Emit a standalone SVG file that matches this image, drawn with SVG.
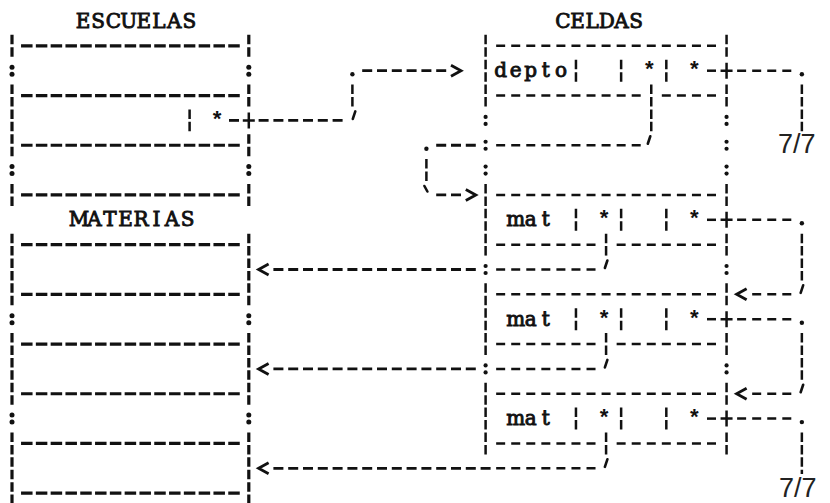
<svg xmlns="http://www.w3.org/2000/svg" xmlns:xlink="http://www.w3.org/1999/xlink" width="830" height="503" viewBox="0 0 830 503">
<style>
.t{font-family:"DejaVu Serif","Liberation Serif",serif;font-size:20px;fill:#111;stroke:#111;stroke-width:0.9}
.s{font-family:"Liberation Mono","Courier New",monospace;font-size:22px;font-weight:bold;fill:#111}
.n{font-family:"Liberation Sans",Arial,sans-serif;font-size:27px;fill:#222}
.hb{stroke:#111;stroke-width:3.2;stroke-dasharray:11.5 3.3;fill:none}
.hc{stroke:#111;stroke-width:2.8;stroke-dasharray:10 4.8;fill:none}
.hr{stroke:#111;stroke-width:2.5;stroke-dasharray:9 6.06;fill:none}
.vb{stroke:#111;stroke-width:3.2;stroke-dasharray:9.5 2.925;fill:none}
.vr{stroke:#111;stroke-width:2.5;stroke-dasharray:9.5 2.925;fill:none}
.bt{stroke:#111;stroke-width:2.6;stroke-linecap:round;fill:none}
</style>
<defs>
<g id="colonL" fill="#111"><circle cx="0" cy="-3.5" r="2.5"/><circle cx="0" cy="3.5" r="2.5"/></g>
<g id="colonR" fill="#111"><circle cx="0" cy="-3.5" r="2.1"/><circle cx="0" cy="3.5" r="2.1"/></g>
<circle id="dot" cx="0" cy="3.5" r="2.2" fill="#111"/>
<path id="plus" d="M0,-8V8M-6,0H6" stroke="#111" stroke-width="2.5" fill="none"/>
<path id="tick" d="M1.3,-9L-1.2,-1.5" stroke="#111" stroke-width="2.6" stroke-linecap="round" fill="none"/>
<path id="lt" d="M5,-5.5L-5,0L5,5.5" stroke="#111" stroke-width="2.8" fill="none"/>
<path id="gt" d="M-5,-5.5L5,0L-5,5.5" stroke="#111" stroke-width="2.8" fill="none"/>
</defs>
<rect width="830" height="503" fill="#fff"/>

<g id="escuelas">
<text class="t" x="83 98.2 113.4 128.6 143.8 159 174.2 189.4" y="27.5" text-anchor="middle">ESCUELAS</text>
<line class="hb" x1="21.05" y1="45.85" x2="239.75" y2="45.85"/>
<line class="hb" x1="21.05" y1="95.55" x2="239.75" y2="95.55"/>
<line class="hb" x1="21.05" y1="145.25" x2="239.75" y2="145.25"/>
<line class="hb" x1="21.05" y1="194.95" x2="239.75" y2="194.95"/>
<line class="vb" x1="12" y1="34.85" x2="12" y2="56.85"/>
<line class="vb" x1="12" y1="84.55" x2="12" y2="156.25"/>
<line class="vb" x1="12" y1="183.95" x2="12" y2="205.95"/>
<line class="vb" x1="248.8" y1="34.85" x2="248.8" y2="56.85"/>
<line class="vb" x1="248.8" y1="84.55" x2="248.8" y2="106.55"/>
<line class="vb" x1="248.8" y1="134.25" x2="248.8" y2="156.25"/>
<line class="vb" x1="248.8" y1="183.95" x2="248.8" y2="205.95"/>
<use xlink:href="#colonL" x="12" y="70.7"/>
<use xlink:href="#colonL" x="12" y="170.1"/>
<use xlink:href="#colonL" x="248.8" y="70.7"/>
<use xlink:href="#colonL" x="248.8" y="170.1"/>
<line class="vr" x1="189.6" y1="109.4" x2="189.6" y2="131.4"/>
<text class="s" x="217.2" y="126.9" text-anchor="middle">*</text>
</g>

<g id="materias">
<text class="t" x="79 94.5 110 125.5 141 156.5 172 187.5" y="226.3" text-anchor="middle">MATERIAS</text>
<line class="hb" x1="21.05" y1="244.65" x2="239.75" y2="244.65"/>
<line class="hb" x1="21.05" y1="294.35" x2="239.75" y2="294.35"/>
<line class="hb" x1="21.05" y1="344.05" x2="239.75" y2="344.05"/>
<line class="hb" x1="21.05" y1="393.75" x2="239.75" y2="393.75"/>
<line class="hb" x1="21.05" y1="443.45" x2="239.75" y2="443.45"/>
<line class="hb" x1="21.05" y1="493.15" x2="239.75" y2="493.15"/>
<line class="vb" x1="12" y1="233.65" x2="12" y2="305.35"/>
<line class="vb" x1="12" y1="333.05" x2="12" y2="404.75"/>
<line class="vb" x1="12" y1="432.45" x2="12" y2="504.15"/>
<line class="vb" x1="248.8" y1="233.65" x2="248.8" y2="305.35"/>
<line class="vb" x1="248.8" y1="333.05" x2="248.8" y2="404.75"/>
<line class="vb" x1="248.8" y1="432.45" x2="248.8" y2="504.15"/>
<use xlink:href="#colonL" x="12" y="319.2"/>
<use xlink:href="#colonL" x="12" y="418.6"/>
<use xlink:href="#colonL" x="248.8" y="319.2"/>
<use xlink:href="#colonL" x="248.8" y="418.6"/>
</g>

<g id="celdas">
<text class="t" x="563 577.6 592.2 606.8 621.4 636" y="27.5" text-anchor="middle">CELDAS</text>
<line class="hr" x1="496.16" y1="45.85" x2="716" y2="45.85"/>
<line class="hr" x1="496.16" y1="194.95" x2="716" y2="194.95"/>
<line class="hr" x1="496.16" y1="294.35" x2="716" y2="294.35"/>
<line class="hr" x1="496.16" y1="393.75" x2="716" y2="393.75"/>
<line class="vr" x1="485.6" y1="34.85" x2="485.6" y2="106.55"/>
<line class="vr" x1="485.6" y1="183.95" x2="485.6" y2="255.65"/>
<line class="vr" x1="485.6" y1="283.35" x2="485.6" y2="355.05"/>
<line class="vr" x1="485.6" y1="382.75" x2="485.6" y2="454.45"/>
<use xlink:href="#colonR" x="485.6" y="120.4"/>
<use xlink:href="#colonR" x="485.6" y="145.25"/>
<use xlink:href="#colonR" x="485.6" y="170.1"/>
<use xlink:href="#colonR" x="485.6" y="269.5"/>
<use xlink:href="#colonR" x="485.6" y="368.9"/>
<line class="vr" x1="726.56" y1="34.85" x2="726.56" y2="56.85"/>
<line class="vr" x1="726.56" y1="84.55" x2="726.56" y2="106.55"/>
<line class="vr" x1="726.56" y1="183.95" x2="726.56" y2="205.95"/>
<line class="vr" x1="726.56" y1="233.65" x2="726.56" y2="255.65"/>
<line class="vr" x1="726.56" y1="283.35" x2="726.56" y2="305.35"/>
<line class="vr" x1="726.56" y1="333.05" x2="726.56" y2="355.05"/>
<line class="vr" x1="726.56" y1="382.75" x2="726.56" y2="404.75"/>
<line class="vr" x1="726.56" y1="432.45" x2="726.56" y2="454.45"/>
<use xlink:href="#colonR" x="726.56" y="120.4"/>
<use xlink:href="#colonR" x="726.56" y="145.25"/>
<use xlink:href="#colonR" x="726.56" y="170.1"/>
<use xlink:href="#colonR" x="726.56" y="269.5"/>
<use xlink:href="#colonR" x="726.56" y="368.9"/>
<g id="celda-depto">
<text class="t" x="500.66 515.72 530.78 545.84 560.9" y="77.2" text-anchor="middle">depto</text>
<line class="vr" x1="575.96" y1="59.7" x2="575.96" y2="81.7"/>
<line class="vr" x1="621.14" y1="59.7" x2="621.14" y2="81.7"/>
<line class="vr" x1="666.32" y1="59.7" x2="666.32" y2="81.7"/>
<text class="s" x="649.3" y="77.2" text-anchor="middle">*</text>
<text class="s" x="694.4" y="77.2" text-anchor="middle">*</text>
<line class="hr" x1="496.16" y1="95.55" x2="640.7" y2="95.55"/>
<line class="hr" x1="661.82" y1="95.55" x2="716" y2="95.55"/>
</g>
<g id="celda-mat-1">
<text class="t" x="515.72 530.78 545.84" y="226.3" text-anchor="middle">mat</text>
<line class="vr" x1="575.96" y1="208.8" x2="575.96" y2="230.8"/>
<line class="vr" x1="621.14" y1="208.8" x2="621.14" y2="230.8"/>
<line class="vr" x1="666.32" y1="208.8" x2="666.32" y2="230.8"/>
<text class="s" x="604.1" y="226.3" text-anchor="middle">*</text>
<text class="s" x="694.4" y="226.3" text-anchor="middle">*</text>
<line class="hr" x1="496.16" y1="244.65" x2="595.52" y2="244.65"/>
<line class="hr" x1="616.64" y1="244.65" x2="716" y2="244.65"/>
</g>
<g id="celda-mat-2">
<text class="t" x="515.72 530.78 545.84" y="325.7" text-anchor="middle">mat</text>
<line class="vr" x1="575.96" y1="308.2" x2="575.96" y2="330.2"/>
<line class="vr" x1="621.14" y1="308.2" x2="621.14" y2="330.2"/>
<line class="vr" x1="666.32" y1="308.2" x2="666.32" y2="330.2"/>
<text class="s" x="604.1" y="325.7" text-anchor="middle">*</text>
<text class="s" x="694.4" y="325.7" text-anchor="middle">*</text>
<line class="hr" x1="496.16" y1="344.05" x2="595.52" y2="344.05"/>
<line class="hr" x1="616.64" y1="344.05" x2="716" y2="344.05"/>
</g>
<g id="celda-mat-3">
<text class="t" x="515.72 530.78 545.84" y="425.1" text-anchor="middle">mat</text>
<line class="vr" x1="575.96" y1="407.6" x2="575.96" y2="429.6"/>
<line class="vr" x1="621.14" y1="407.6" x2="621.14" y2="429.6"/>
<line class="vr" x1="666.32" y1="407.6" x2="666.32" y2="429.6"/>
<text class="s" x="604.1" y="425.1" text-anchor="middle">*</text>
<text class="s" x="694.4" y="425.1" text-anchor="middle">*</text>
<line class="hr" x1="496.16" y1="443.45" x2="595.52" y2="443.45"/>
<line class="hr" x1="616.64" y1="443.45" x2="716" y2="443.45"/>
</g>
</g>

<g id="connectors">
<line class="hc" x1="229" y1="120.4" x2="239" y2="120.4"/>
<use xlink:href="#plus" x="248.8" y="120.4"/>
<line class="hc" x1="258.6" y1="120.4" x2="342.6" y2="120.4"/>
<use xlink:href="#tick" x="354" y="120.4"/>
<line class="vr" x1="352.4" y1="84.55" x2="352.4" y2="106.55"/>
<use xlink:href="#dot" x="352.4" y="70.7"/>
<line class="hc" x1="362.2" y1="70.7" x2="446.2" y2="70.7"/>
<use xlink:href="#gt" x="456" y="70.7"/>
<line class="vr" x1="651.26" y1="84.55" x2="651.26" y2="131.4"/>
<use xlink:href="#tick" x="649" y="145.25"/>
<line class="hr" x1="496.16" y1="145.25" x2="640.7" y2="145.25"/>
<line class="hc" x1="436.2" y1="145.25" x2="475.8" y2="145.25"/>
<use xlink:href="#dot" x="426.4" y="145.25"/>
<line class="vr" x1="426.4" y1="159.1" x2="426.4" y2="181.1"/>
<line class="bt" x1="424.4" y1="186" x2="427.4" y2="191.5"/>
<line class="hc" x1="436.2" y1="194.95" x2="461" y2="194.95"/>
<use xlink:href="#gt" x="470.8" y="194.95"/>
<line class="hr" x1="707" y1="70.7" x2="716" y2="70.7"/>
<use xlink:href="#plus" x="726.56" y="70.7"/>
<line class="hr" x1="737.12" y1="70.7" x2="791.3" y2="70.7"/>
<use xlink:href="#dot" x="801.86" y="70.7"/>
<line class="vr" x1="801.86" y1="84.55" x2="801.86" y2="131.4"/>
<text class="n" x="778" y="153">7/7</text>
<line class="vr" x1="606.08" y1="233.65" x2="606.08" y2="255.65"/>
<use xlink:href="#tick" x="606.08" y="269.5"/>
<line class="hr" x1="496.16" y1="269.5" x2="595.52" y2="269.5"/>
<line class="hc" x1="273.4" y1="269.5" x2="475.8" y2="269.5"/>
<use xlink:href="#lt" x="263.6" y="269.5"/>
<line class="hr" x1="707" y1="219.8" x2="716" y2="219.8"/>
<use xlink:href="#plus" x="726.56" y="219.8"/>
<line class="hr" x1="737.12" y1="219.8" x2="791.3" y2="219.8"/>
<use xlink:href="#dot" x="801.86" y="219.8"/>
<line class="vr" x1="801.86" y1="233.65" x2="801.86" y2="280.5"/>
<use xlink:href="#tick" x="801.86" y="294.35"/>
<line class="hr" x1="752.18" y1="294.35" x2="791.3" y2="294.35"/>
<use xlink:href="#lt" x="741.62" y="294.35"/>
<line class="vr" x1="606.08" y1="333.05" x2="606.08" y2="355.05"/>
<use xlink:href="#tick" x="606.08" y="368.9"/>
<line class="hr" x1="496.16" y1="368.9" x2="595.52" y2="368.9"/>
<line class="hc" x1="273.4" y1="368.9" x2="475.8" y2="368.9"/>
<use xlink:href="#lt" x="263.6" y="368.9"/>
<line class="hr" x1="707" y1="319.2" x2="716" y2="319.2"/>
<use xlink:href="#plus" x="726.56" y="319.2"/>
<line class="hr" x1="737.12" y1="319.2" x2="791.3" y2="319.2"/>
<use xlink:href="#dot" x="801.86" y="319.2"/>
<line class="vr" x1="801.86" y1="333.05" x2="801.86" y2="379.9"/>
<use xlink:href="#tick" x="801.86" y="393.75"/>
<line class="hr" x1="752.18" y1="393.75" x2="791.3" y2="393.75"/>
<use xlink:href="#lt" x="741.62" y="393.75"/>
<line class="vr" x1="606.08" y1="432.45" x2="606.08" y2="454.45"/>
<use xlink:href="#tick" x="606.08" y="468.3"/>
<line class="hr" x1="496.16" y1="468.3" x2="595.52" y2="468.3"/>
<line class="hc" x1="273.4" y1="468.3" x2="490.6" y2="468.3"/>
<use xlink:href="#lt" x="263.6" y="468.3"/>
<line class="hr" x1="707" y1="418.6" x2="716" y2="418.6"/>
<use xlink:href="#plus" x="726.56" y="418.6"/>
<line class="hr" x1="737.12" y1="418.6" x2="791.3" y2="418.6"/>
<use xlink:href="#dot" x="801.86" y="418.6"/>
<line class="vr" x1="801.86" y1="432.45" x2="801.86" y2="474"/>
<text class="n" x="779" y="497">7/7</text>
</g>
</svg>
